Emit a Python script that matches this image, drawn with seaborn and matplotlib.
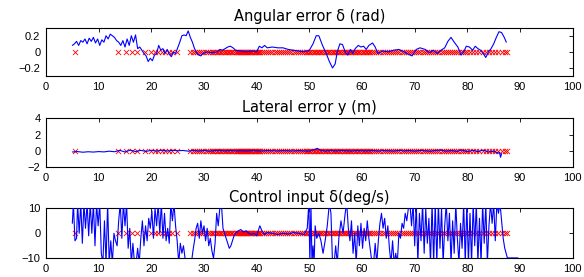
import numpy as np
import matplotlib
matplotlib.use("Agg")
import matplotlib.pyplot as plt
import seaborn as sns

# ---------------- data ----------------
titles = ["Angular error δ (rad)", "Lateral error y (m)", "Control input δ(deg/s)"]
x_ticks = [0, 10, 20, 30, 40, 50, 60, 70, 80, 90, 100]
y_ticks_ang = [-0.2, 0, 0.2]
y_ticks_lat = [-2, 0, 2, 4]
y_ticks_ctl = [-10, 0, 10]

# time stamps of the red 'x' markers (all at value 0)
marker_t = [5.6, 13.6, 15.1, 16.4, 17.2, 18.8, 19.9, 20.6, 21.3, 22.0, 22.6, 23.3, 24.0, 24.8,
            27.4, 27.9, 28.3, 28.7, 29.1, 29.5, 29.9, 30.3, 30.7, 31.1, 31.5, 31.8, 32.1, 32.4,
            32.7, 33.0, 33.3, 33.6, 33.9, 34.2, 34.5, 34.8, 35.1, 35.4, 35.7, 36.0, 36.2, 36.4,
            36.6, 36.8, 37.0, 37.2, 37.4, 37.6, 37.8, 38.0, 38.2, 38.4, 38.6, 38.8, 39.0, 39.2,
            39.4, 39.6, 39.8, 40.0, 40.2, 40.4, 40.7, 41.0, 41.4, 41.8, 42.2, 42.6, 43.0, 43.4,
            43.8, 44.2, 44.6, 45.0, 45.4, 45.8, 46.2, 46.6, 47.0, 47.4, 47.8, 48.2, 48.6, 49.0,
            49.3, 49.6, 49.9, 50.2, 50.5, 50.8, 51.1, 51.4, 51.7, 52.0, 52.3, 52.6, 52.9, 53.2,
            53.5, 53.8, 54.1, 54.4, 54.7, 55.0, 55.3, 55.6, 55.9, 56.2, 56.5, 56.8, 57.1, 57.4,
            57.7, 58.0, 58.3, 58.6, 58.9, 59.2, 59.5, 59.8, 60.1, 60.4, 60.7, 61.0, 61.3, 61.6,
            61.9, 62.3, 62.7, 63.1, 63.5, 63.9, 64.3, 64.7, 65.1, 65.5, 65.9, 66.3, 66.7, 67.1,
            67.5, 67.9, 68.3, 68.7, 69.1, 69.5, 69.9, 70.3, 70.7, 71.1, 71.5, 71.9, 72.3, 72.7,
            73.1, 73.5, 73.9, 74.3, 74.7, 75.1, 75.5, 75.9, 76.3, 76.7, 77.1, 77.5, 77.9, 78.3,
            78.7, 79.1, 79.5, 79.9, 80.5, 81.1, 81.7, 82.3, 82.9, 83.5, 84.1, 84.7, 85.3, 85.9,
            86.5, 87.1, 87.5]
marker_v = np.zeros(len(marker_t))

# angular error (rad)
ang_t = [5.0, 5.4, 5.8, 6.2, 6.6, 7.0, 7.4, 7.8, 8.2, 8.6, 9.0, 9.4, 9.8, 10.2, 10.6, 11.0,
         11.4, 11.8, 12.2, 12.6, 13.0, 13.4, 13.8, 14.2, 14.6, 15.0, 15.4, 15.8, 16.2, 16.6,
         17.0, 17.4, 17.8, 18.2, 18.6, 19.0, 19.4, 19.8, 20.2, 20.6, 21.0, 21.4, 21.8, 22.2,
         22.6, 23.0, 23.4, 23.8, 24.2, 24.6, 25.0, 25.4, 25.8, 26.2, 26.6, 27.0, 27.4, 27.8,
         28.2, 28.6, 29.0, 29.4, 29.8, 30.5, 31.5, 32.5, 33.0, 33.5, 34.0, 34.5, 35.0, 35.5,
         36.0, 37.0, 38.0, 39.0, 40.0, 40.5, 41.0, 41.5, 42.0, 43.0, 44.0, 45.0, 46.0, 47.0,
         48.0, 49.0, 50.0, 50.7, 51.3, 51.8, 52.5, 53.2, 53.8, 54.4, 54.9, 55.3, 55.8, 56.3,
         56.8, 57.3, 57.8, 58.3, 58.7, 59.3, 59.8, 60.3, 60.8, 61.3, 62.0, 62.5, 63.0, 64.0,
         65.0, 66.0, 67.0, 68.0, 68.8, 69.5, 70.3, 71.0, 72.0, 72.8, 73.5, 74.3, 75.0, 75.7,
         76.3, 76.9, 77.5, 78.2, 78.8, 79.3, 79.8, 80.4, 81.0, 81.5, 82.0, 82.5, 83.0, 83.5,
         84.0, 84.5, 85.0, 85.5, 86.0, 86.5, 87.0, 87.4]
ang_v = [0.08, 0.10, 0.13, 0.08, 0.14, 0.12, 0.16, 0.10, 0.17, 0.13, 0.18, 0.11, 0.16, 0.08,
         0.15, 0.12, 0.20, 0.16, 0.22, 0.20, 0.18, 0.14, 0.12, 0.08, 0.14, 0.06, 0.16, 0.08,
         0.20, 0.12, 0.21, 0.04, 0.06, 0.02, -0.02, -0.05, -0.12, -0.08, -0.11, -0.04, -0.02,
         0.08, 0.02, 0.04, -0.02, 0.03, -0.03, -0.06, 0.00, -0.02, 0.05, 0.12, 0.20, 0.21,
         0.20, 0.26, 0.18, 0.12, 0.04, -0.01, -0.04, -0.05, -0.02, 0.00, -0.01, 0.00, 0.03,
         0.02, 0.04, 0.06, 0.07, 0.05, 0.02, 0.01, 0.00, 0.01, 0.00, 0.07, 0.05, 0.08, 0.05,
         0.06, 0.05, 0.05, 0.03, 0.02, 0.01, 0.00, 0.02, 0.10, 0.20, 0.20, 0.08, -0.02, -0.12,
         -0.20, -0.15, 0.00, 0.10, 0.09, 0.00, -0.04, 0.03, -0.02, 0.04, 0.08, 0.06, 0.07,
         0.03, 0.08, 0.11, 0.06, -0.02, 0.01, 0.00, 0.02, 0.03, 0.00, -0.03, -0.05, 0.03,
         0.05, 0.03, -0.01, 0.02, -0.02, 0.02, 0.05, 0.13, 0.18, 0.12, 0.06, -0.04, 0.00,
         0.07, 0.06, 0.02, 0.07, 0.04, 0.02, -0.02, -0.07, 0.00, 0.04, 0.10, 0.18, 0.25,
         0.24, 0.18, 0.12]

# lateral error (m)
lat_t = [5.0, 6.0, 7.0, 8.0, 9.0, 10.0, 11.0, 12.0, 13.0, 14.0, 15.0, 16.0, 17.0, 18.0,
         19.0, 20.0, 21.0, 22.0, 23.0, 24.0, 25.0, 26.0, 27.0, 28.0, 29.0, 30.0, 31.0, 32.0,
         33.0, 34.0, 35.0, 36.0, 37.0, 38.0, 39.0, 40.0, 41.0, 42.0, 43.0, 44.0, 45.0, 46.0,
         47.0, 48.0, 49.0, 50.0, 51.0, 51.5, 52.0, 53.0, 54.0, 55.0, 56.0, 57.0, 58.0, 59.0,
         60.0, 61.0, 62.0, 63.0, 64.0, 65.0, 66.0, 67.0, 68.0, 69.0, 70.0, 71.0, 72.0, 73.0,
         74.0, 75.0, 76.0, 77.0, 78.0, 79.0, 80.0, 81.0, 82.0, 83.0, 84.0, 85.0, 85.8, 86.1,
         86.3, 86.5]
lat_v = [-0.15, -0.10, -0.18, -0.12, -0.16, -0.10, -0.14, -0.05, -0.12, 0.05, -0.15, 0.08,
         -0.10, 0.05, -0.08, 0.06, -0.05, 0.08, -0.04, 0.06, 0.00, 0.04, -0.05, 0.05, -0.03,
         0.04, -0.05, 0.02, 0.06, -0.03, 0.04, -0.02, 0.02, -0.03, 0.03, 0.00, -0.03, 0.03,
         0.00, -0.02, 0.02, 0.00, -0.03, 0.02, -0.02, -0.05, 0.15, 0.30, 0.10, -0.05, 0.05,
         -0.03, 0.04, 0.00, -0.04, 0.03, 0.00, -0.02, 0.04, -0.03, 0.02, 0.00, -0.04, 0.05,
         -0.02, 0.03, -0.05, 0.04, 0.00, -0.06, 0.05, 0.08, -0.05, 0.03, -0.08, 0.10, -0.12,
         0.05, -0.10, 0.08, -0.15, -0.05, -0.30, -0.20, -0.80, -0.35]

# control input (deg/s)
ctl_t = [5.0, 5.2, 5.5, 5.8, 6.0, 6.3, 6.6, 6.9, 7.2, 7.5, 7.8, 8.1, 8.4, 8.7, 9.0, 9.3,
         9.6, 9.9, 10.2, 10.5, 10.8, 11.1, 11.4, 11.7, 12.0, 12.3, 12.6, 12.9, 13.2, 13.5,
         13.8, 14.1, 14.4, 14.7, 15.0, 15.3, 15.6, 15.9, 16.2, 16.5, 16.8, 17.1, 17.4, 17.7,
         18.0, 18.3, 18.6, 18.9, 19.2, 19.5, 19.8, 20.1, 20.4, 20.7, 21.0, 21.3, 21.6, 21.9,
         22.2, 22.5, 22.8, 23.1, 23.4, 23.7, 24.0, 24.3, 24.6, 24.9, 25.2, 25.5, 25.8, 26.1,
         26.4, 26.7, 27.0, 27.3, 27.6, 27.9, 28.2, 28.5, 28.8, 29.1, 29.4, 29.7, 30.0, 30.3,
         30.6, 30.9, 31.2, 31.5, 31.8, 32.1, 32.4, 32.7, 33.0, 33.3, 33.6, 33.9, 34.2, 34.5,
         34.8, 35.1, 35.4, 35.7, 36.0, 36.5, 37.0, 37.5, 38.0, 38.5, 39.0, 39.5, 40.0, 40.3,
         40.6, 41.0, 41.5, 42.0, 43.0, 44.0, 45.0, 46.0, 47.0, 48.0, 49.0, 49.6, 49.9, 50.1,
         50.3, 50.5, 50.7, 50.9, 51.1, 51.4, 51.8, 52.2, 52.6, 53.0, 53.4, 53.8, 54.1, 54.4,
         54.7, 55.0, 55.3, 55.6, 56.0, 56.4, 56.8, 57.1, 57.4, 57.7, 58.0, 58.3, 58.6, 58.9,
         59.2, 59.5, 59.8, 60.1, 60.4, 60.7, 61.0, 61.3, 61.6, 61.9, 62.2, 62.5, 62.8, 63.1,
         63.4, 63.7, 64.0, 64.3, 64.6, 64.9, 65.2, 65.5, 65.8, 66.1, 66.4, 66.7, 67.0, 67.3,
         67.6, 67.9, 68.2, 68.5, 68.8, 69.1, 69.4, 69.7, 70.0, 70.3, 70.6, 70.9, 71.2, 71.5,
         71.8, 72.1, 72.4, 72.7, 73.0, 73.3, 73.6, 73.9, 74.2, 74.5, 74.8, 75.1, 75.4, 75.7,
         76.0, 76.3, 76.6, 76.9, 77.2, 77.5, 77.8, 78.1, 78.4, 78.7, 79.0, 79.3, 79.6, 79.9,
         80.2, 80.5, 80.8, 81.1, 81.4, 81.7, 82.0, 82.3, 82.6, 82.9, 83.2, 83.5, 83.8, 84.1,
         84.4, 84.7, 85.0, 85.3, 85.6, 85.9, 86.2, 86.5, 86.8, 87.1, 87.6, 88.0, 89.6]
ctl_v = [4, 12, -3, -2, 12, 0, 12, -4, 12, 2, 12, -1, 12, 0, 12, -5,
         12, 3, 12, -8, -12, 5, -12, 12, -12, -3, -12, 0, -3, -5,
         5, 12, -2, 12, 3, 12, -6, 2, -12, -4, -12, -12, -6, -12,
         -2, 5, -5, 3, -3, 6, 2, 9, -2, 10, 3, 12, 0, 12,
         -2, 8, -3, 2, -4, 12, 5, 12, 3, -3, -12, -4, -8, -5,
         -10, -12, -12, -12, -12, -7, -3, 2, 4, -2, 5, 0, 3, -3,
         2, -5, -2, -7, -10, -4, 8, 3, 10, 12, 2, 0, -2, -4,
         -6, -5, -3, -1, 0, 1, 1.5, 0.5, 1, 0, -0.5, 0, -1, 1,
         3, 1, -0.5, 0.3, 0, -0.5, 0, -0.3, 0.3, 0, -0.5, 2, 12, -12,
         12, -12, -5, -12, 3, -2, 0, -3, -8, -3, 3, 12, 8, -12,
         -12, -5, -12, -2, 5, 0, 8, 12, 2, -3, 5, -8, 0, -12,
         3, -5, 4, -6, 2, -3, 5, -2, -7, -12, -12, -4, -12, -3,
         4, 8, 2, 6, -2, 3, -6, -12, -3, -12, -8, -12, 0, -2,
         4, 2, 8, 5, 10, 12, 3, 12, -5, 12, -12, 8, -3, 12,
         -8, 10, -4, 6, -12, 12, -12, 12, -12, 12, -6, 10, -12, 3,
         12, -3, 8, -12, 5, -8, 12, -2, -12, 4, -6, 12, -12, 12,
         -12, 8, -12, 12, -5, 12, -12, 6, -12, 12, -4, 12, -12, 3,
         12, 4, 12, -3, 12, 8, 12, 5, -2, -6, -9.85, -9.85, -9.85]

# ---------------- style ----------------
sns.set_style("white")
plt.rcParams["font.family"] = ["Liberation Sans", "DejaVu Sans"]
plt.rcParams["axes.linewidth"] = 0.8
plt.rcParams["axes.edgecolor"] = "black"
plt.rcParams["text.color"] = "black"
plt.rcParams["axes.titlecolor"] = "black"
plt.rcParams["xtick.color"] = "black"
plt.rcParams["ytick.color"] = "black"

fig = plt.figure(figsize=(5.84, 2.77), dpi=100)
L, W = 46 / 584, 526.7 / 584
rects = [
    [L, 1 - 76 / 277, W, 48.3 / 277],
    [L, 1 - 167 / 277, W, 48.7 / 277],
    [L, 1 - 258.3 / 277, W, 50 / 277],
]
ylims = [(-0.3, 0.3), (-2, 4), (-10, 10)]
yticks = [y_ticks_ang, y_ticks_lat, y_ticks_ctl]
ytlabels = [["\u22120.2", "0", "0.2"], ["\u22122", "0", "2", "4"], ["\u221210", "0", "10"]]
series = [(ang_t, ang_v), (lat_t, lat_v), (ctl_t, ctl_v)]

for i in range(3):
    ax = fig.add_axes(rects[i])
    t, v = series[i]
    sns.scatterplot(x=marker_t, y=marker_v, marker="x", color="#ff0000", s=14,
                    linewidth=0.6, ax=ax, zorder=2)
    sns.lineplot(x=t, y=v, color="#0000ff", linewidth=0.8, sort=False,
                 estimator=None, ax=ax, zorder=3)
    ax.set_xlim(0, 100)
    ax.set_ylim(*ylims[i])
    ax.set_xticks(x_ticks)
    ax.set_xticklabels([str(x) for x in x_ticks])
    ax.set_yticks(yticks[i])
    ax.set_yticklabels(ytlabels[i])
    ax.tick_params(direction="in", length=3, width=0.6, top=True, right=True,
                   labelsize=8, pad=4, colors="black")
    for s in ax.spines.values():
        s.set_visible(True)
        s.set_color("black")
        s.set_linewidth(0.8)
    ax.set_title(titles[i], fontsize=10.5, pad=4.5, family=["DejaVu Sans"],
                 color="black")
    ax.set_xlabel("")
    ax.set_ylabel("")

fig.savefig("out.png", dpi=100)
